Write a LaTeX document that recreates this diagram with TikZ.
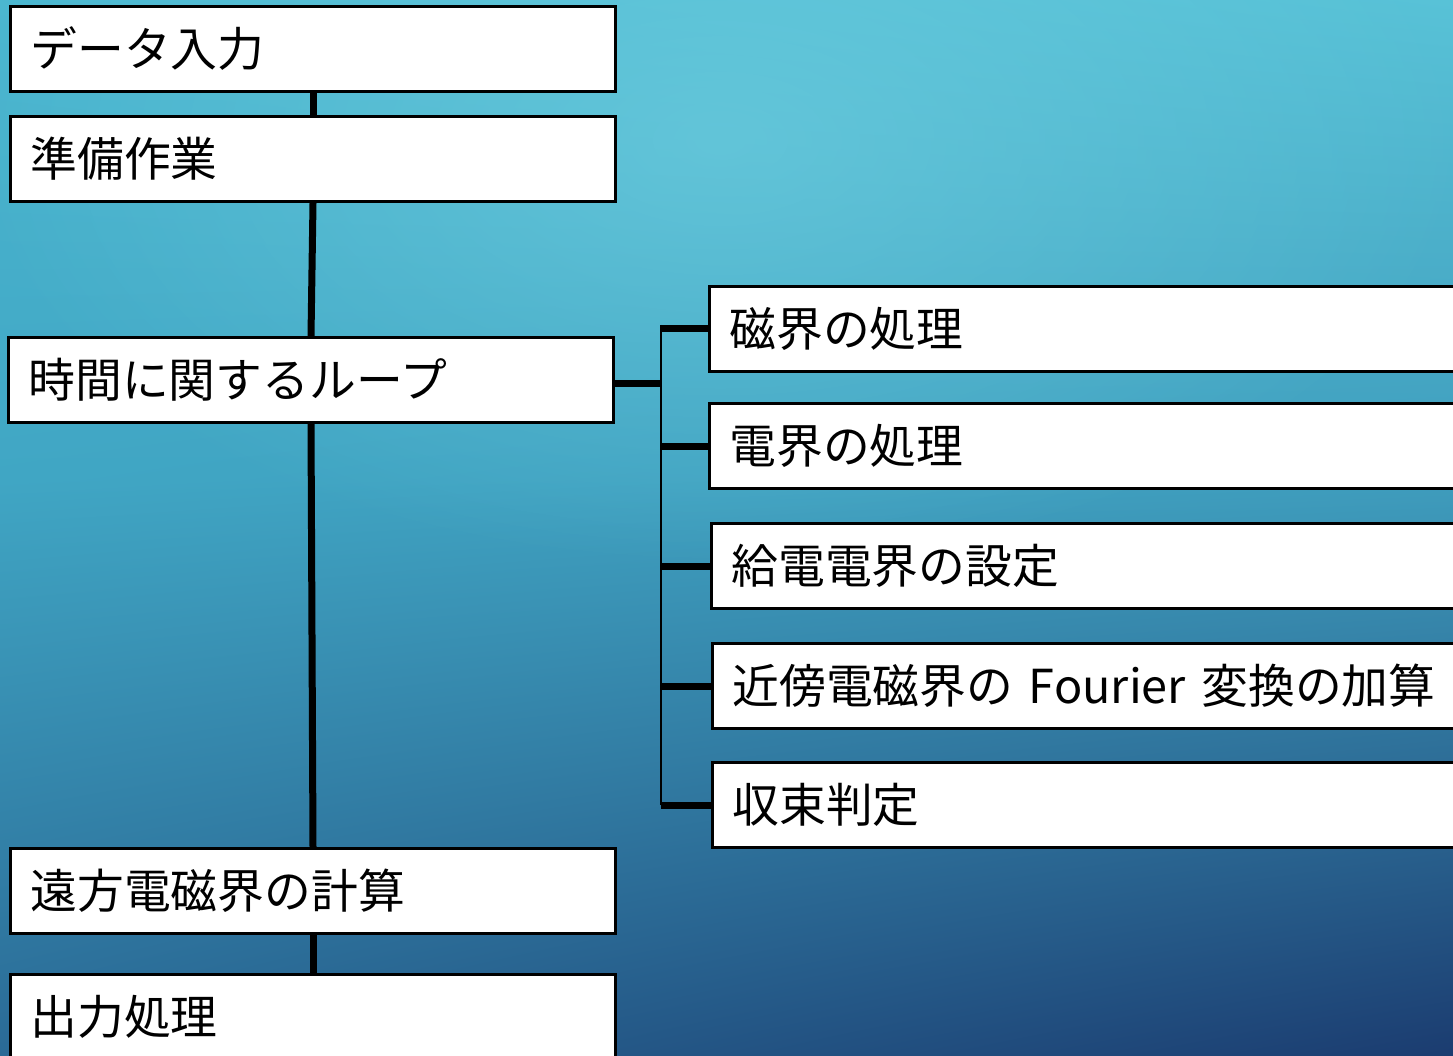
\documentclass[tikz,border=0pt]{standalone}
\usepackage{fontspec}
\setmainfont{Noto Sans CJK JP}
\usetikzlibrary{fadings,shadings}
\definecolor{bgUL}{HTML}{4BB7D0}
\definecolor{bgUR}{HTML}{58C2D7}
\definecolor{bgML}{HTML}{40A6C4}
\definecolor{bgMR}{HTML}{3F9DBD}
\definecolor{bgLL}{HTML}{2A6A96}
\definecolor{bgLR}{HTML}{1B3C70}
\definecolor{glow}{HTML}{74D2E2}
\tikzfading[name=glowfade, inner color=transparent!0, outer color=transparent!100]
\begin{document}
\begin{tikzpicture}[x=1pt,y=-1pt,
  box/.style={draw=black, line width=3pt, fill=white, rectangle, minimum height=85pt,
    anchor=north west, inner xsep=20pt, inner ysep=0pt, align=left,
    font=\fontsize{46.8}{56}\selectfont},
  lbox/.style={box, text width=565pt},
  rbox/.style={box, text width=720pt},
  trunk/.style={line width=7pt},
  thinline/.style={line width=2.5pt}]
\useasboundingbox (0,0) rectangle (1453,1056);
\clip (0,0) rectangle (1453,1056);
% background
\shade[upper left=bgUL, upper right=bgUR, lower left=bgML, lower right=bgMR] (0,0) rectangle (1453,480);
\shade[upper left=bgML, upper right=bgMR, lower left=bgLL, lower right=bgLR] (0,480) rectangle (1453,1056);
\fill[glow, path fading=glowfade, fill opacity=0.55] (720,140) ellipse [x radius=760, y radius=430];

% left column
\node[lbox] (b1) at (9,5) {データ入力};
\node[lbox] (b2) at (9,115) {準備作業};
\node[lbox] (b3) at (7,336) {時間に関するループ};
\node[lbox] (b4) at (9,847) {遠方電磁界の計算};
\node[lbox] (b5) at (9,973) {出力処理};

% right column
\node[rbox] (r1) at (708,285) {磁界の処理};
\node[rbox] (r2) at (708,402) {電界の処理};
\node[rbox] (r3) at (710,522) {給電電界の設定};
\node[rbox] (r4) at (711,642) {近傍電磁界の Fourier 変換の加算};
\node[rbox] (r5) at (711,761) {収束判定};

% trunk
\draw[trunk] (b1.south) -- (b2.north);
\draw[trunk] (b2.south) -- (b3.north);
\draw[trunk] (b3.south) -- (b4.north);
\draw[trunk] (b4.south) -- (b5.north);

% branch to sub-steps
\coordinate (hub) at (661,383);
\coordinate (bartop) at (661,325);
\coordinate (barbot) at (661,805);
\draw[trunk] (b3.east |- hub) -- (hub);
\draw[thinline] (bartop) -- (barbot);
\foreach \r in {r1,r2,r3,r4,r5}{
  \draw[trunk] (hub |- \r.west) -- (\r.west);
}
\end{tikzpicture}
\end{document}
